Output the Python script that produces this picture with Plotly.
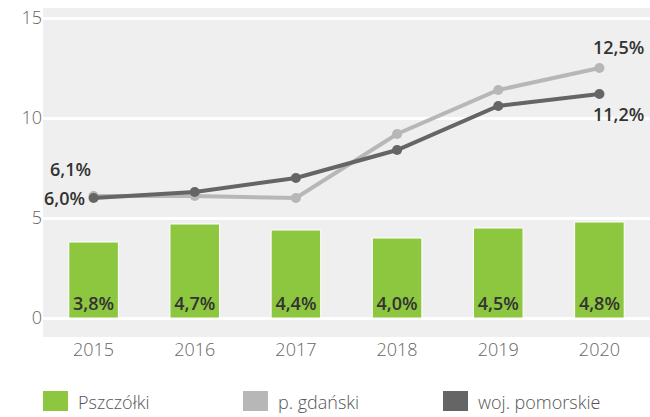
import plotly.graph_objects as go

years = ["2015", "2016", "2017", "2018", "2019", "2020"]
pszczolki = [3.8, 4.7, 4.4, 4.0, 4.5, 4.8]
p_gdanski = [6.1, 6.1, 6.0, 9.2, 11.4, 12.5]
woj_pomorskie = [6.0, 6.3, 7.0, 8.4, 10.6, 11.2]
series_names = ["Pszczółki", "p. gdański", "woj. pomorskie"]
colors = ["#8dc63f", "#b7b7b7", "#656565"]

def fmt(v):
    return f"{v:.1f}%".replace(".", ",")

FONT = "Open Sans"

fig = go.Figure()
fig.add_trace(go.Bar(
    x=years, y=pszczolki, name=series_names[0],
    marker=dict(color=colors[0], line=dict(color="white", width=1)),
    width=0.49,
    text=[fmt(v) for v in pszczolki], textposition="inside",
    insidetextanchor="start",
    textfont=dict(family=FONT, size=18, color="#333333", weight=600),
    showlegend=False,
))
fig.add_trace(go.Scatter(
    x=years, y=p_gdanski, mode="lines+markers", name=series_names[1],
    line=dict(color=colors[1], width=4), marker=dict(size=10, color=colors[1]),
    showlegend=False,
))
fig.add_trace(go.Scatter(
    x=years, y=woj_pomorskie, mode="lines+markers", name=series_names[2],
    line=dict(color=colors[2], width=4), marker=dict(size=10, color=colors[2]),
    showlegend=False,
))

lab_font = dict(family=FONT, size=18, color="#333333", weight=600)
first, last = 0, len(years) - 1
annotations = [
    dict(x=first, y=p_gdanski[first], text=fmt(p_gdanski[first]), xref="x", yref="y",
         showarrow=False, xshift=-23, yshift=27, font=lab_font),
    dict(x=first, y=woj_pomorskie[first], text=fmt(woj_pomorskie[first]), xref="x", yref="y",
         showarrow=False, xshift=-29, yshift=0, font=lab_font),
    dict(x=last, y=p_gdanski[last], text=fmt(p_gdanski[last]), xref="x", yref="y",
         showarrow=False, xshift=19, yshift=21, font=lab_font),
    dict(x=last, y=woj_pomorskie[last], text=fmt(woj_pomorskie[last]), xref="x", yref="y",
         showarrow=False, xshift=19, yshift=-20, font=lab_font),
]

# Legend drawn as squares + labels (paper coordinates)
PL, PW, PB, PH = 43, 607, 337, 329
shapes = []
leg_x = [43, 243, 443]
for i, name in enumerate(series_names):
    shapes.append(dict(type="rect", xref="paper", yref="paper",
                       x0=(leg_x[i] - PL) / PW, x1=(leg_x[i] - PL + 25) / PW,
                       y0=-(411 - PB) / PH, y1=-(391 - PB) / PH,
                       fillcolor=colors[i], line=dict(width=0)))
    annotations.append(dict(x=(leg_x[i] - PL + 33) / PW, y=-(402 - PB) / PH,
                            xref="paper", yref="paper", text=name, showarrow=False,
                            xanchor="left", yanchor="middle",
                            font=dict(family=FONT, size=18, color="#555555", weight=300)))

fig.update_layout(
    width=650, height=417,
    margin=dict(l=PL, r=0, t=8, b=417 - PB, autoexpand=False),
    paper_bgcolor="white", plot_bgcolor="#efefef",
    font=dict(family=FONT, size=18, color="#666666"),
    annotations=annotations, shapes=shapes,
    showlegend=False,
)
fig.update_xaxes(type="category", range=[-0.5, 5.5], showgrid=False, zeroline=False,
                 showline=False, ticks="", automargin=False,
                 tickfont=dict(family=FONT, size=18, color="#666666", weight=300))
fig.update_yaxes(range=[-0.95, 15.5], tickvals=[0, 5, 10, 15], showgrid=True,
                 gridcolor="white", gridwidth=3, zeroline=False, showline=False,
                 ticks="", automargin=False,
                 tickfont=dict(family=FONT, size=18, color="#666666", weight=300))

fig.write_html("out.html", config={"displayModeBar": False},
               post_script="document.body.style.margin='0';")
